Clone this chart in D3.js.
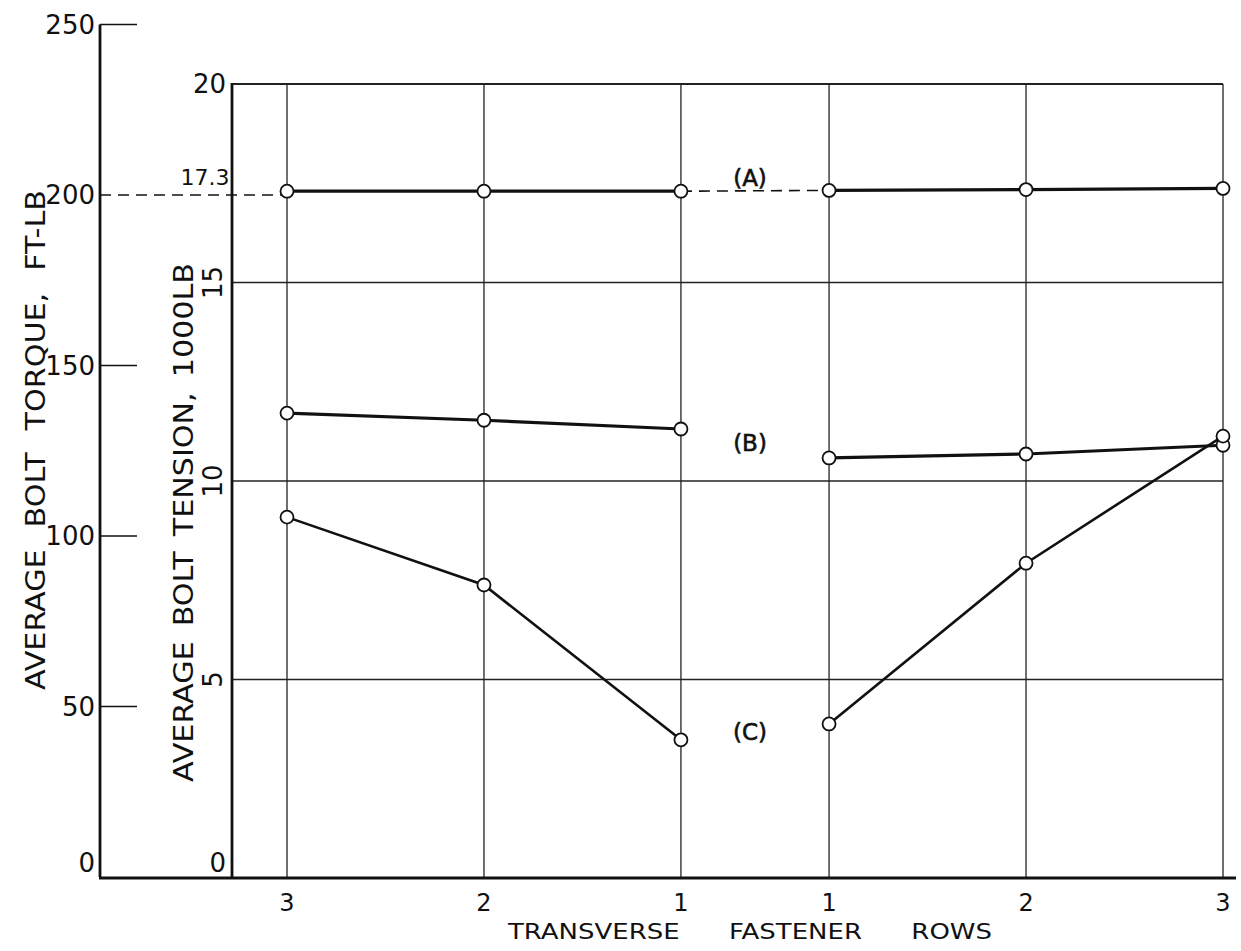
<!DOCTYPE html>
<html>
<head>
<meta charset="utf-8">
<script src="https://cdn.jsdelivr.net/npm/d3@7"></script>
<style>
  html, body { margin: 0; padding: 0; background: #fff; }
  svg { display: block; }
  text { font-family: "DejaVu Sans", "Liberation Sans", sans-serif; fill: #111; }
</style>
</head>
<body>
<svg id="chart" width="1241" height="951"></svg>
<script>
// ---- data ----
const rowLabels = ["3", "2", "1", "1", "2", "3"];
const rowSide   = ["L", "L", "L", "R", "R", "R"];
const rowNumber = [3, 2, 1, 1, 2, 3];
const seriesNames = ["(A)", "(B)", "(C)"];
const tensionA = [17.3, 17.3, 17.3, 17.32, 17.34, 17.37];
const tensionB = [11.71, 11.53, 11.31, 10.58, 10.68, 10.9];
const tensionC = [9.09, 7.38, 3.48, 3.88, 7.93, 11.13];
const torqueTicks = [0, 50, 100, 150, 200, 250];
const tensionTicks = [0, 5, 10, 15, 20];
const referenceTorque = 200;
const referenceTension = 17.3;
const torqueTitle = ["AVERAGE", "BOLT", "TORQUE,", "FT-LB"];
const tensionTitle = ["AVERAGE", "BOLT", "TENSION,", "1000LB"];
const xTitle = ["TRANSVERSE", "FASTENER", "ROWS"];

// ---- layout ----
const svg = d3.select("#chart");
const gapHalf = 0.376; // half gap between the two "1" rows, in row units
const pos = (i) => (rowSide[i] === "L" ? -1 : 1) * (rowNumber[i] - 1 + gapHalf);
const x = d3.scaleLinear().domain([-(2 + gapHalf), 2 + gapHalf]).range([287, 1223]);
const yT = d3.scaleLinear().domain([0, 20]).range([878, 84]);      // tension
const yQ = d3.scaleLinear().domain([0, 250]).range([877, 24.5]);   // torque

const frameL = 232, frameR = 1223, frameT = yT(20), frameB = yT(0);
const outerX = 100;

// spread words of a title along a run of given length
function spreadWords(g, words, total, fontSize, stretch) {
  const els = words.map(w => g.append("text").attr("font-size", fontSize).text(w));
  const widths = els.map((e, i) => {
    const w = e.node().getComputedTextLength() * stretch;
    if (stretch !== 1) e.attr("textLength", w).attr("lengthAdjust", "spacingAndGlyphs");
    return w;
  });
  const gap = (total - d3.sum(widths)) / (words.length - 1);
  let cur = 0;
  els.forEach((e, i) => { e.attr("x", cur); cur += widths[i] + gap; });
}

// vertical grid lines
svg.append("g").selectAll("line").data(rowLabels).join("line")
  .attr("x1", (d, i) => x(pos(i))).attr("x2", (d, i) => x(pos(i)))
  .attr("y1", frameT).attr("y2", frameB)
  .attr("stroke", "#222").attr("stroke-width", 1.3);

// horizontal grid lines (tension)
svg.append("g").selectAll("line").data(tensionTicks.filter(t => t > 0)).join("line")
  .attr("x1", frameL).attr("x2", frameR)
  .attr("y1", d => yT(d)).attr("y2", d => yT(d))
  .attr("stroke", "#222").attr("stroke-width", d => d === 20 ? 1.8 : 1.3);

// inner left axis (tension)
svg.append("line").attr("x1", frameL).attr("x2", frameL).attr("y1", frameT - 1).attr("y2", frameB)
  .attr("stroke", "#111").attr("stroke-width", 2.8);

// outer left axis (torque)
svg.append("line").attr("x1", outerX).attr("x2", outerX).attr("y1", yQ(250)).attr("y2", yQ(0))
  .attr("stroke", "#111").attr("stroke-width", 2.8);
svg.append("g").selectAll("line").data(torqueTicks.filter(t => t > 0 && t !== referenceTorque)).join("line")
  .attr("x1", outerX).attr("x2", outerX + 37)
  .attr("y1", d => yQ(d)).attr("y2", d => yQ(d))
  .attr("stroke", "#111").attr("stroke-width", 1.4);

// bottom axis line
svg.append("line").attr("x1", outerX - 1).attr("x2", 1236).attr("y1", frameB).attr("y2", frameB)
  .attr("stroke", "#111").attr("stroke-width", 3);

// reference dashed line at 200 ft-lb / 17.3
svg.append("line").attr("x1", outerX).attr("x2", x(pos(0)))
  .attr("y1", yQ(referenceTorque)).attr("y2", yQ(referenceTorque))
  .attr("stroke", "#111").attr("stroke-width", 1.6).attr("stroke-dasharray", "11,7");

// torque tick labels
svg.append("g").selectAll("text").data(torqueTicks).join("text")
  .attr("x", outerX - 5).attr("y", d => yQ(d) + (d === 0 ? -5 : 9))
  .attr("text-anchor", "end").attr("font-size", 26)
  .text(d => d);

// tension tick labels (20 and 0 upright, others rotated)
tensionTicks.forEach(t => {
  if (t === 20 || t === 0) {
    svg.append("text").attr("x", frameL - 6).attr("y", yT(t) + (t === 0 ? -6 : 9))
      .attr("text-anchor", "end").attr("font-size", 26).text(t);
  } else {
    const cx = frameL - 19, cy = yT(t);
    svg.append("text").attr("transform", `translate(${cx},${cy}) rotate(-90)`)
      .attr("text-anchor", "middle").attr("dy", 9).attr("font-size", 26).text(t);
  }
});
svg.append("text").attr("x", 205).attr("y", yT(referenceTension) - 6)
  .attr("text-anchor", "middle").attr("font-size", 22).text("17.3");

// axis titles
spreadWords(svg.append("g").attr("transform", "translate(45,690) rotate(-90)"), torqueTitle, 500, 26, 1.16);
spreadWords(svg.append("g").attr("transform", "translate(193,782) rotate(-90)"), tensionTitle, 519, 26, 1.16);
spreadWords(svg.append("g").attr("transform", "translate(508,939)"), xTitle, 484, 22, 1.18);

// x tick labels
svg.append("g").selectAll("text").data(rowLabels).join("text")
  .attr("x", (d, i) => x(pos(i))).attr("y", frameB + 33)
  .attr("text-anchor", "middle").attr("font-size", 24)
  .text(d => d);

// series
const series = [
  { name: seriesNames[0], vals: tensionA, width: 3.2, bridge: true },
  { name: seriesNames[1], vals: tensionB, width: 3.2, bridge: false },
  { name: seriesNames[2], vals: tensionC, width: 2.6, bridge: false }
];
const line = d3.line().x(d => x(d.p)).y(d => yT(d.v));
series.forEach(s => {
  const pts = s.vals.map((v, i) => ({ p: pos(i), v, side: rowSide[i] }));
  const left = pts.filter(d => d.side === "L");
  const right = pts.filter(d => d.side === "R");
  [left, right].forEach(seg => {
    svg.append("path").datum(seg).attr("d", line)
      .attr("fill", "none").attr("stroke", "#111").attr("stroke-width", s.width);
  });
  if (s.bridge) {
    svg.append("path").datum([left[left.length - 1], right[0]]).attr("d", line)
      .attr("fill", "none").attr("stroke", "#111").attr("stroke-width", 1.6)
      .attr("stroke-dasharray", "11,7");
  }
  svg.append("g").selectAll("circle").data(pts).join("circle")
    .attr("cx", d => x(d.p)).attr("cy", d => yT(d.v)).attr("r", 6.5)
    .attr("fill", "#fff").attr("stroke", "#111").attr("stroke-width", 1.8);
});

// series labels
const labelY = [tensionA[2] + 0.32, (tensionB[2] + tensionB[3]) / 2, (tensionC[2] + tensionC[3]) / 2];
svg.append("g").selectAll("text").data(seriesNames).join("text")
  .attr("x", x(0) - 5).attr("y", (d, i) => yT(labelY[i]) + 8)
  .attr("text-anchor", "middle").attr("font-size", 23)
  .attr("stroke", "#111").attr("stroke-width", 0.6)
  .text(d => d);
</script>
</body>
</html>
